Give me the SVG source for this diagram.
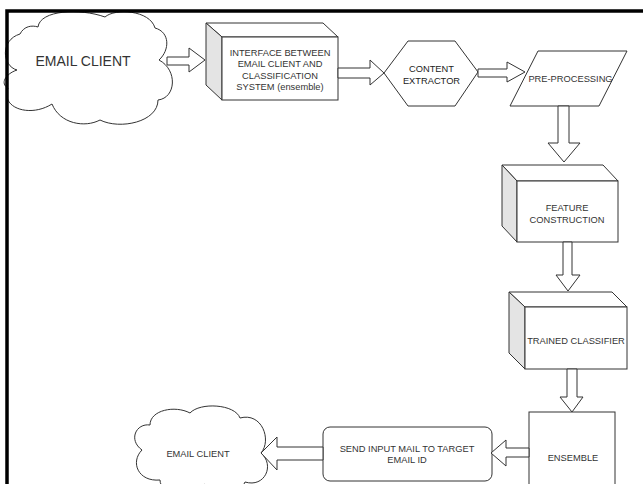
<svg xmlns="http://www.w3.org/2000/svg" width="643" height="484" viewBox="0 0 643 484">
<style>
.s{fill:#fff;stroke:#333;stroke-width:1;stroke-linejoin:miter}
.side{fill:#e4e4e4;stroke:#333;stroke-width:1}
.t{font-family:"Liberation Sans",Arial,sans-serif;font-size:9.3px;fill:#333;text-anchor:middle}
.ar{fill:#fff;stroke:#333;stroke-width:1}
</style>
<rect x="0" y="0" width="643" height="484" fill="#fff"/>
<g id="email-client-1">
<path class="s" d="M 17,70 C 2,66 0,40 20,34 C 24,26 32,25 38,27 C 40,10 80,8 105,17 C 115,8 150,10 155,28 C 170,32 170,50 159,60 C 178,70 176,98 158,100 C 158,122 120,130 100,120 C 85,128 60,124 52,104 C 30,118 0,108 8,88 C 0,84 5,74 17,70 Z"/>
<text class="t" x="83" y="66" style="font-size:14px">EMAIL CLIENT</text>
</g>
<g id="interface">
<polygon class="s" points="206,23 323,23 338,37 222,37"/>
<polygon class="side" points="206,23 222,37 222,100 206,85"/>
<rect class="s" x="222" y="37" width="116" height="63"/>
<text class="t" x="280" y="56">INTERFACE BETWEEN</text>
<text class="t" x="280" y="67.3">EMAIL CLIENT AND</text>
<text class="t" x="280" y="78.6">CLASSIFICATION</text>
<text class="t" x="280" y="90">SYSTEM (ensemble)</text>
</g>
<g id="content-extractor">
<polygon class="s" points="384,73 408,41 455,41 478,72 455,106 408,106"/>
<text class="t" x="431.5" y="71.5" style="fill:#222">CONTENT</text>
<text class="t" x="431.5" y="83.5" style="fill:#222">EXTRACTOR</text>
</g>
<g id="pre-processing">
<polygon class="s" points="538,51 627,51 599,106 510,106"/>
<text class="t" x="570.5" y="81.5">PRE-PROCESSING</text>
</g>
<g id="feature-construction">
<polygon class="s" points="502,165 603,165 618,181 517,181"/>
<polygon class="side" points="502,165 517,181 517,242 502,226"/>
<rect class="s" x="517" y="181" width="101" height="61"/>
<text class="t" x="567" y="210.5">FEATURE</text>
<text class="t" x="567" y="222.5">CONSTRUCTION</text>
</g>
<g id="trained-classifier">
<polygon class="s" points="509,292 612,292 627,307 525,307"/>
<polygon class="side" points="509,292 525,307 525,369 509,353"/>
<rect class="s" x="525" y="307" width="102" height="62"/>
<text class="t" x="576" y="343.5">TRAINED CLASSIFIER</text>
</g>
<g id="ensemble">
<rect class="s" x="529" y="412" width="86" height="90"/>
<text class="t" x="573" y="460.5">ENSEMBLE</text>
</g>
<g id="send-input-mail">
<rect class="s" x="323" y="427" width="169" height="54" rx="7" ry="7"/>
<text class="t" x="407" y="452">SEND INPUT MAIL TO TARGET</text>
<text class="t" x="407" y="463">EMAIL ID</text>
</g>
<g id="email-client-2">
<path class="s" d="M 261,453 C 275,465 265,488 245,482 C 240,495 215,498 205,484 C 190,497 160,495 160,480 C 138,482 130,462 142,450 C 128,440 136,423 150,425 C 150,410 175,405 190,413 C 200,402 235,404 240,418 C 262,412 272,440 261,453 Z"/>
<text class="t" x="198" y="456.5">EMAIL CLIENT</text>
</g>
<g id="connectors">
<polygon class="ar" points="167,57 189,57 189,48 205,60 189,72 189,65 167,65"/>
<polygon class="ar" points="338,68 370,68 370,60 384,73 370,85 370,78 338,78"/>
<polygon class="ar" points="478,69 507,69 507,62 525,72 507,82 507,77 478,77"/>
<polygon class="ar" points="558,106 569,106 569,143 580,143 564,162 548,143 558,143"/>
<polygon class="ar" points="563,242 572,242 572,275 580,275 568,291 556,275 563,275"/>
<polygon class="ar" points="567,369 577,369 577,397 583,397 572,412 560,397 567,397"/>
<polygon class="ar" points="529,448 506,448 506,440 491,453 506,466 506,457 529,457"/>
<polygon class="ar" points="323,447 277,447 277,437 261,453 277,470 277,460 323,460"/>
</g>
<path d="M 7,490 L 7,11 L 650,11" fill="none" stroke="#000" stroke-width="3.5"/>
</svg>
